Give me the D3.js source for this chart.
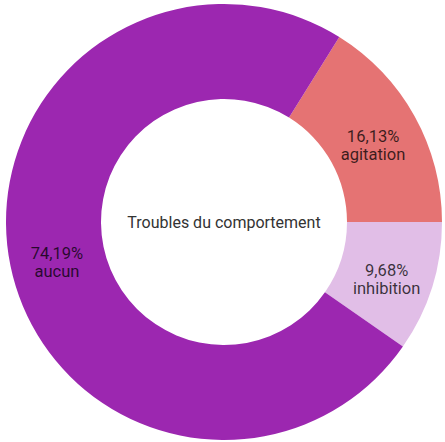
<!DOCTYPE html>
<html lang="fr">
<head>
<meta charset="UTF-8" />
<title>Troubles du comportement</title>
<script src="https://cdn.jsdelivr.net/npm/d3@7"></script>
<style>
	body { margin: 0; background: #fff; }
	text { font-family: Roboto, sans-serif; }
</style>
</head>
<body>
<svg id="vis" width="445" height="442"></svg>
<script>
	// données
	const categories = ["agitation", "inhibition", "aucun"];
	const percents = [16.13, 9.68, 74.19];
	const colors = ["#e57373", "#e1bee7", "#9c27b0"];
	const title = "Troubles du comportement";

	const cx = 224, cy = 222;
	const outerR = 218, innerR = 123;

	let svg = d3.select("#vis");
	let g = svg.append("g").attr("transform", `translate(${cx},${cy})`);

	// la coupure agitation / inhibition est à 3h
	let start = Math.PI / 2 - 2 * Math.PI * percents[0] / 100;
	let pie = d3.pie().sort(null).value(d => d)
		.startAngle(start).endAngle(start + 2 * Math.PI);
	let arc = d3.arc().innerRadius(innerR).outerRadius(outerR);
	let labelArc = d3.arc().innerRadius((innerR + outerR) / 2).outerRadius((innerR + outerR) / 2);

	let arcs = pie(percents);

	g.selectAll("path.slice")
		.data(arcs)
		.join("path")
		.attr("class", "slice")
		.attr("d", arc)
		.attr("fill", (d, i) => colors[i]);

	let fmt = v => v.toFixed(2).replace(".", ",") + "%";

	let labels = g.selectAll("text.lbl")
		.data(arcs)
		.join("text")
		.attr("class", "lbl")
		.attr("transform", d => `translate(${labelArc.centroid(d)})`)
		.attr("text-anchor", "middle")
		.attr("font-size", 16.5)
		.attr("fill", "rgba(0,0,0,0.75)");
	labels.append("tspan").attr("x", 0).attr("dy", "0.15em").text(d => fmt(d.data));
	labels.append("tspan").attr("x", 0).attr("dy", "1.1em").text((d, i) => categories[i]);

	g.append("text")
		.attr("text-anchor", "middle")
		.attr("dy", "0.35em")
		.attr("font-size", 16)
		.attr("fill", "#333")
		.text(title);
</script>
</body>
</html>
